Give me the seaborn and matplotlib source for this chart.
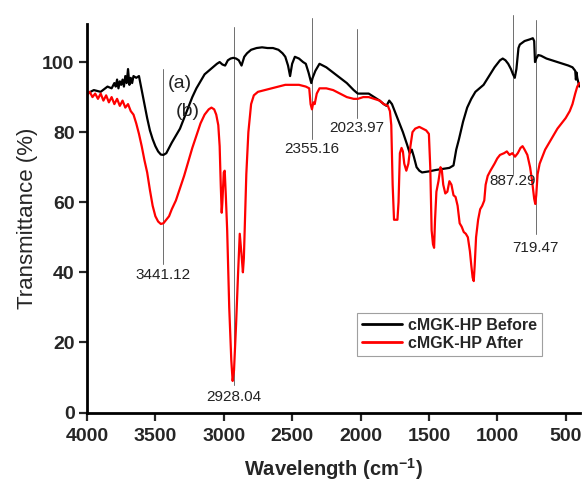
import numpy as np
import pandas as pd
import matplotlib
matplotlib.use("Agg")
import matplotlib.pyplot as plt
import seaborn as sns
from matplotlib.lines import Line2D

# ---------------- data ----------------
before_wn = [4000, 3950, 3900, 3850, 3820, 3800, 3790, 3780, 3770, 3760, 3750, 3740, 3730, 3720, 3710,
             3700, 3690, 3680, 3670, 3660, 3640, 3620, 3600, 3580, 3560, 3540, 3520, 3500, 3480, 3460,
             3441, 3420, 3400, 3380, 3350, 3320, 3290, 3260, 3230, 3200, 3170, 3140, 3110, 3080, 3050,
             3030, 3010, 2990, 2970, 2950, 2930, 2910, 2890, 2870, 2850, 2830, 2800, 2760, 2720, 2680,
             2640, 2600, 2570, 2550, 2530, 2515, 2500, 2480, 2450, 2420, 2400, 2380, 2360, 2350, 2330,
             2300, 2250, 2200, 2150, 2100, 2050, 2020, 1980, 1940, 1900, 1860, 1830, 1810, 1790, 1770,
             1750, 1720, 1690, 1660, 1640, 1625, 1610, 1590, 1570, 1550, 1500, 1450, 1400, 1350, 1320,
             1300, 1280, 1250, 1220, 1190, 1160, 1130, 1100, 1060, 1020, 980, 960, 940, 920, 900,
             885, 872, 860, 845, 835, 800, 760, 740, 730, 724, 715, 700, 680, 640, 600,
             560, 520, 480, 450, 430, 425, 420, 415, 400]
before_t = [91, 92, 91.5, 93, 92.5, 94, 93, 95, 92.5, 94.5, 93.5, 95, 93, 96, 94,
            98, 93.5, 95.5, 94, 96, 95.5, 96, 92, 88, 84, 80.5, 78, 76, 74.5, 73.6,
            73.5, 74, 75.5, 77, 79, 81, 84, 87, 90, 92.5, 94.5, 96.5, 97.5, 98.5, 99.5,
            100, 99.3, 99, 100.5, 101, 101.2, 101, 100.5, 99, 101.5, 102.5, 103.5, 104, 104.2, 104,
            104, 103.5, 102.5, 101.5, 99, 96, 99.5, 101.5, 101, 100, 99.5, 97, 94, 95.5, 97.5,
            99.5, 98.5, 97, 95.5, 94, 92, 91, 91, 91, 90, 89, 88, 87.5, 89, 88,
            86, 83, 80, 76.5, 74, 75, 73, 70, 69, 68.5, 68.8, 69.2, 69.5, 69.8, 70.5,
            75, 78, 83, 87, 89.5, 91.5, 92.5, 93.5, 96, 98.5, 100.5, 101, 100.5, 99.5, 98,
            96.5, 95.5, 98, 104, 105, 106, 106.5, 106.8, 106, 100, 101, 102, 101.8, 101, 100.5,
            100, 99.5, 99, 98.5, 97.5, 95, 97, 95.5, 93]

after_wn = [4000, 3980, 3960, 3940, 3920, 3900, 3880, 3860, 3840, 3820, 3800, 3780, 3760, 3740, 3720,
            3700, 3680, 3660, 3640, 3620, 3600, 3580, 3560, 3540, 3520, 3500, 3480, 3460, 3441, 3420,
            3400, 3380, 3350, 3320, 3290, 3260, 3230, 3200, 3170, 3140, 3110, 3090, 3070, 3055, 3040,
            3030, 3022, 3015, 3010, 3000, 2993, 2985, 2975, 2960, 2945, 2935, 2925, 2910, 2895, 2883,
            2870, 2860, 2853, 2845, 2835, 2820, 2800, 2780, 2750, 2700, 2650, 2600, 2550, 2500, 2450,
            2400, 2375, 2365, 2355, 2345, 2335, 2320, 2300, 2250, 2200, 2150, 2100, 2050, 2020, 1980,
            1940, 1900, 1860, 1830, 1800, 1785, 1775, 1765, 1755, 1745, 1730, 1722, 1712, 1700, 1690,
            1680, 1665, 1650, 1635, 1620, 1600, 1570, 1545, 1520, 1500, 1490, 1480, 1470, 1462, 1455,
            1445, 1430, 1415, 1405, 1395, 1380, 1365, 1350, 1335, 1320, 1305, 1290, 1275, 1260, 1245,
            1230, 1215, 1200, 1190, 1180, 1172, 1165, 1155, 1140, 1125, 1110, 1095, 1085, 1070, 1050,
            1020, 1000, 980, 950, 930, 910, 890, 870, 850, 830, 815, 800, 780, 760, 745,
            730, 722, 715, 705, 690, 670, 650, 620, 590, 560, 530, 500, 470, 450, 430,
            415, 400]
after_t = [90.5, 91.5, 90, 91, 89.5, 91, 89, 90.5, 88.5, 90, 88, 89.5, 87.5, 89, 87,
           88, 86, 85, 82.5, 79.5, 76, 72, 68.5, 63.5, 59, 56, 54.5, 53.8, 54, 55,
           56, 58, 60.5, 64, 67.5, 71.5, 75.5, 79, 82.5, 85, 86.5, 87, 86.5, 85, 82,
           76, 65, 57, 60, 68.5, 69, 62, 52, 30, 15, 9, 12, 25, 40, 51,
           45, 40, 44, 55, 68, 80, 88, 90.5, 91.5, 92, 92.5, 93, 93.5, 93.5, 93.5,
           93, 92.5, 88, 86.5, 88.5, 88, 91, 92.5, 92.5, 92, 91, 90, 89.5, 89.5, 90,
           90, 89.5, 89, 88, 87.5, 86, 82, 65, 55, 55, 55, 60, 74, 75.5, 74.5,
           71, 69, 71, 76, 80, 81, 81.5, 81, 80.5, 79.5, 70, 52, 48, 47, 55,
           63, 66, 70, 69, 65, 62.5, 63, 66, 65, 62, 61.5, 59, 54, 53, 51.5,
           51, 50, 46, 42, 38.5, 37.5, 42, 50, 55, 58, 59, 60.5, 65, 67.5, 69,
           71, 72.5, 73.5, 74, 74.5, 73.5, 74, 73, 74, 75.5, 76, 75, 73.5, 70, 66,
           61, 59.5, 62, 68, 71, 73, 75, 77, 79, 81, 82.5, 84, 86, 88, 91,
           93, 94]

series_names = ["cMGK-HP Before", "cMGK-HP After"]
series_colors = ["black", "red"]

peak_labels = ["3441.12", "2928.04", "2355.16", "2023.97", "887.29", "719.47"]
peak_pos = [3441.12, 2928.04, 2355.16, 2023.97, 887.29, 719.47]
peak_line_top = [98, 110, 112.7, 109.5, 113.5, 112]
peak_line_bottom = [42.5, 7.8, 78, 84, 68, 51]
peak_text_y = [39.2, 4.4, 75.3, 81.3, 66.2, 47]

x_ticks = [4000, 3500, 3000, 2500, 2000, 1500, 1000, 500]
y_ticks = [0, 20, 40, 60, 80, 100]

# ---------------- plot ----------------
sns.set_style("ticks")
plt.rcParams["font.family"] = ["Liberation Sans", "DejaVu Sans"]
plt.rcParams["mathtext.fontset"] = "custom"
plt.rcParams["mathtext.rm"] = "Liberation Sans"
plt.rcParams["mathtext.bf"] = "Liberation Sans:bold"

df = pd.concat([
    pd.DataFrame({"wn": before_wn, "T": before_t, "s": series_names[0]}),
    pd.DataFrame({"wn": after_wn, "T": after_t, "s": series_names[1]}),
], ignore_index=True)

fig = plt.figure(figsize=(5.84, 4.83), dpi=100)
ax = fig.add_axes([87 / 584, (483 - 412.5) / 483, (580 - 87) / 584, (412.5 - 23.5) / 483])

sns.lineplot(data=df, x="wn", y="T", hue="s", hue_order=series_names,
             palette=dict(zip(series_names, series_colors)), estimator=None,
             linewidth=1.6, ax=ax, legend=False)

for lab, xp, yt, yb, ty in zip(peak_labels, peak_pos, peak_line_top, peak_line_bottom, peak_text_y):
    ax.plot([xp, xp], [yb, yt], color="#6e6e6e", lw=0.7, clip_on=False, zorder=1)
    ax.text(xp, ty, lab, ha="center", va="center", fontsize=11, color="#222222")

ax.text(3320, 94, "(a)", ha="center", va="center", fontsize=14, color="#222222")
ax.text(3261, 86, "(b)", ha="center", va="center", fontsize=14, color="#222222")

ax.set_xlim(4000, 395)
ax.set_ylim(0, 111)
ax.set_xticks(x_ticks)
ax.set_yticks(y_ticks)
ax.tick_params(axis="both", direction="out", length=6, width=1.6, labelsize=14, pad=3)
ax.tick_params(axis="x", pad=5)
for lab in ax.get_xticklabels() + ax.get_yticklabels():
    lab.set_fontweight("bold")
for side in ["top", "right"]:
    ax.spines[side].set_visible(False)
for side in ["left", "bottom"]:
    ax.spines[side].set_linewidth(2)
    ax.spines[side].set_color("black")

ax.set_xlabel(r"Wavelength (cm$^{\mathbf{-1}}$)", fontsize=14.5, fontweight="bold", labelpad=8)
ax.set_ylabel("Transmittance (%)", fontsize=16, labelpad=3)

handles = [Line2D([], [], color=c, lw=2) for c in series_colors]
leg = ax.legend(handles, series_names, loc="upper left", bbox_to_anchor=(0.548, 0.256),
                borderaxespad=0, frameon=True, fancybox=False, edgecolor="#888888",
                prop={"weight": "bold", "size": 11.5}, handlelength=2.5, handletextpad=0.4,
                borderpad=0.3, labelspacing=0.2)
leg.get_frame().set_linewidth(0.8)

fig.savefig("out.png", dpi=100)
